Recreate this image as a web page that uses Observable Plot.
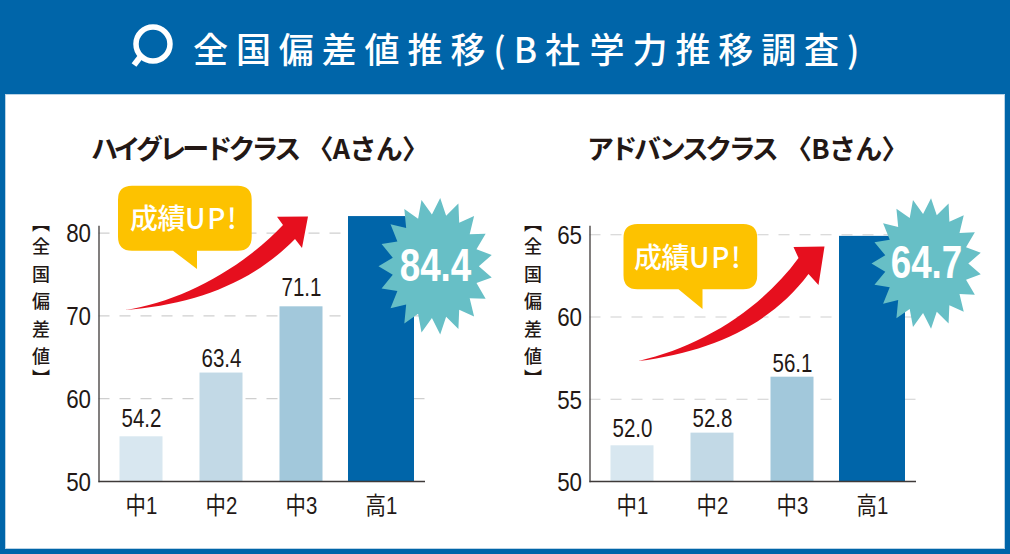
<!DOCTYPE html>
<html lang="ja"><head><meta charset="utf-8">
<script src="https://cdn.jsdelivr.net/npm/d3@7"></script>
<script src="https://cdn.jsdelivr.net/npm/@observablehq/plot@0.6"></script>
<style>
html,body{margin:0;padding:0;background:#0065a9;overflow:hidden}
#page{position:relative;width:1010px;height:554px;background:#0065a9;font-family:"Noto Sans CJK JP",sans-serif;overflow:hidden}
#panel{position:absolute;left:5px;top:94px;width:998px;height:453px;background:#fff;border:1px solid #b9d3e6}
.abs{position:absolute;white-space:nowrap}
#title{left:193px;top:22px;color:#fff;font-size:35px;font-weight:500;letter-spacing:7.9px;word-spacing:-14px;line-height:52px}
.sub{top:128px;font-size:27px;font-weight:700;color:#231815;line-height:40px}
.sub.a{letter-spacing:-3.9px}.sub.b{letter-spacing:-3.5px}
.sub span{letter-spacing:-.7px;margin-left:7px}
.ylab{top:214px;writing-mode:vertical-rl;font-size:18px;font-weight:500;color:#231815;letter-spacing:9.5px;line-height:20px}
.ylab i{font-style:normal;letter-spacing:5.5px}.ylab u{text-decoration:none;letter-spacing:4px}
.bub{font-size:28px;font-weight:500;color:#fff;line-height:40px;letter-spacing:-.5px}
.bub span{letter-spacing:1.6px}
svg.plot{position:absolute;top:0}
</style></head><body><div id="page">
<div id="panel"></div>
<svg class="abs" style="left:125px;top:18px" width="54" height="54" viewBox="0 0 54 54"><circle cx="28" cy="26" r="17" fill="none" stroke="#fff" stroke-width="5.5"/><path d="M16 38 L9 47" stroke="#fff" stroke-width="6" fill="none"/></svg>
<div id="title" class="abs">全国偏差値推移(B社 学力推移調査)</div>
<div class="abs sub a" style="left:91px">ハイグレードクラス <span>〈Aさん〉</span></div>
<div class="abs sub b" style="left:587px">アドバンスクラス <span>〈Bさん〉</span></div>
<div class="abs ylab" style="left:31px"><i>【</i>全国偏差<u>値</u>】</div>
<div class="abs ylab" style="left:523px"><i>【</i>全国偏差<u>値</u>】</div>
<div id="charts"></div>
<div class="abs bub" style="left:130px;top:197px">成績<span>UP!</span></div>
<div class="abs bub" style="left:634px;top:236px">成績<span>UP!</span></div>
</div>
<script>
const grades = ["中1","中2","中3","高1"];
const fills = ["#d8e7f0","#c2d9e6","#a2c8db","#0065a9"];
const labelsA = ["54.2","63.4","71.1","84.4"];
const barsA = [55.4,63.1,71.1,82];
const labelAtA = [57.6,64.85,73.4,76];
const ticksA = [50,60,70,80];
const labelsB = ["52.0","52.8","56.1","64.7"];
const barsB = [52.17,52.94,56.34,64.9];
const labelAtB = [53.2,53.77,57.17,63.25];
const ticksB = [50,55,60,65];
const FONT = '"Liberation Sans","Noto Sans CJK JP",sans-serif';
const SQUEEZE = {"25":.82,"26":.86,"24":.85,"46":.8};

function star(n, inner, ys){
  return {draw(ctx, size){
    const R = Math.sqrt(size/Math.PI);
    for(let i=0;i<2*n;i++){
      const a = i*Math.PI/n - Math.PI/2 + Math.PI/n/2;
      const r = i%2 ? R*inner : R;
      const x = r*Math.cos(a), y = r*Math.sin(a)*ys;
      i ? ctx.lineTo(x,y) : ctx.moveTo(x,y);
    }
    ctx.closePath();
  }};
}
function shape(d, fill){
  return () => { const p = d3.create("svg:path").attr("d",d).attr("fill",fill); return p.node(); };
}
function condense(svg){
  svg.querySelectorAll("text").forEach(t=>{
    const g = t.closest("[font-size]");
    const k = g && SQUEEZE[g.getAttribute("font-size")];
    if(!k) return;
    t.setAttribute("textLength", t.getComputedTextLength()*k);
    t.setAttribute("lengthAdjust","spacingAndGlyphs");
  });
}
function chart(cfg){
  const rows = grades.map((g,i)=>({g,v:cfg.bars[i],at:cfg.labelAt[i],lab:cfg.labels[i],fill:fills[i]}));
  const thin = rows.slice(0,3), wide = rows.slice(3);
  const svg = Plot.plot({
    width:505,height:554,marginLeft:98.5,marginRight:80,marginTop:226,marginBottom:73,
    style:{background:"transparent",fontFamily:FONT,color:"#231815"},
    x:{type:"band",domain:grades,range:[101,421],padding:0},
    y:{domain:cfg.domain},
    color:{type:"identity"},
    marks:[
      Plot.ruleY(cfg.ticks.slice(1),{stroke:"#cfcfcf",strokeWidth:1.2,strokeDasharray:"11 10"}),
      Plot.barY(thin,{x:"g",y1:cfg.domain[0],y2:"v",fill:"fill",insetLeft:18.5,insetRight:18.5}),
      Plot.barY(wide,{x:"g",y1:cfg.domain[0],y2:"v",fill:"fill",insetLeft:7,insetRight:7}),
      Plot.text(thin,{x:"g",y:"at",text:"lab",fontSize:25,fill:"#231815"}),
      Plot.frame({anchor:"left",stroke:"#3e3a39",strokeWidth:1.3}),
      Plot.ruleY([cfg.domain[0]],{stroke:"#3e3a39",strokeWidth:1.5}),
      Plot.axisY({ticks:cfg.ticks,tickSize:0,tickPadding:8,label:null,fontSize:26,fill:"#231815",dy:1}),
      Plot.axisX({tickSize:0,tickPadding:15,label:null,fontSize:24,fill:"#231815"}),
      shape(cfg.arrow,"#e60f1e"),
      shape(cfg.bubble,"#fdc200"),
      Plot.dot(wide,{x:"g",y:"at",dx:cfg.starDx,r:cfg.starR,fill:"#67bfc6",symbol:star(cfg.n,.76,cfg.ys)}),
      Plot.text(wide,{x:"g",y:"at",dx:cfg.starDx,text:"lab",fontSize:46,fontWeight:700,fill:"#fff"})
    ]
  });
  svg.classList.add("plot");
  svg.style.left = cfg.left+"px";
  document.getElementById("charts").appendChild(svg);
  condense(svg);
}
const bubblePath = (x,y,w,h,r,t1,t2,ty)=>`M${x+r},${y}H${x+w-r}Q${x+w},${y} ${x+w},${y+r}V${y+h-r}Q${x+w},${y+h} ${x+w-r},${y+h}H${t2}V${ty}L${t1},${y+h}H${x+r}Q${x},${y+h} ${x},${y+h-r}V${y+r}Q${x},${y} ${x+r},${y}Z`;
chart({left:0,bars:barsA,labels:labelsA,labelAt:labelAtA,ticks:ticksA,domain:[50,80.8],starDx:54,starR:57,ys:1.2,n:19,
  arrow:"M125,310 C180,302 240,270 283,225 L277,216.7 L308,216.5 L302,248 L295,239 C250,285 190,305 125,310 Z",
  bubble:bubblePath(118,185.7,133.7,65,14,173,197,269)});
chart({left:490.5,bars:barsB,labels:labelsB,labelAt:labelAtB,ticks:ticksB,domain:[50,65.5],starDx:54,starR:55,ys:1.19,n:19,
  arrow:"M147.5,361 C209.5,347 269.5,310 307.5,258 L302.5,247 L333.5,246.5 L327.5,285 L317.5,274 C279.5,325 219.5,352 147.5,361 Z",
  bubble:bubblePath(132.5,224,133.7,65.3,14,187.5,211.5,309)});
</script></body></html>
